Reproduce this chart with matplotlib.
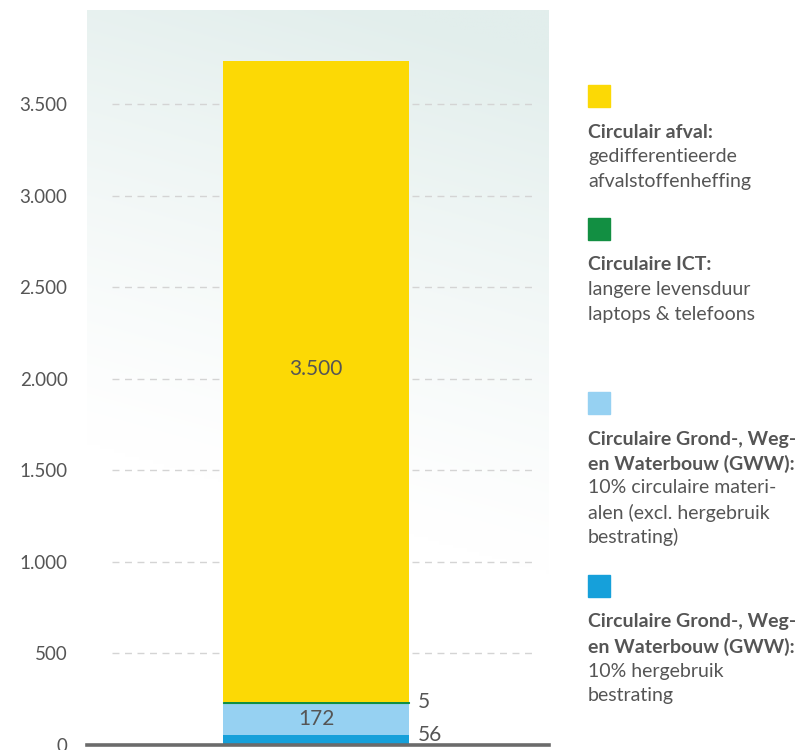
import numpy as np
import matplotlib.pyplot as plt
from matplotlib.patches import Rectangle
from matplotlib.colors import to_rgb

plt.rcParams['font.family'] = ['Lato', 'DejaVu Sans']

# stacked from the bottom up
values = [56, 172, 5, 3500]
colors = ['#16a0da', '#96d1f2', '#128f42', '#fcd905']
value_labels = ['56', '172', '5', '3.500']

yticks = [0, 500, 1000, 1500, 2000, 2500, 3000, 3500]
ytick_labels = ['0', '500', '1.000', '1.500', '2.000', '2.500', '3.000', '3.500']

# legend, top to bottom
legend_colors = ['#fcd905', '#128f42', '#96d1f2', '#16a0da']
legend_bold = [
    ['Circulair afval:'],
    ['Circulaire ICT:'],
    ['Circulaire Grond-, Weg-', 'en Waterbouw (GWW):'],
    ['Circulaire Grond-, Weg-', 'en Waterbouw (GWW):'],
]
legend_text = [
    ['gedifferentieerde', 'afvalstoffenheffing'],
    ['langere levensduur', 'laptops & telefoons'],
    ['10% circulaire materi-', 'alen (excl. hergebruik', 'bestrating)'],
    ['10% hergebruik', 'bestrating'],
]
legend_top = [85, 218, 392, 575]

txt = '#555555'
W, H = 807, 750
fig = plt.figure(figsize=(W / 100, H / 100), dpi=100)
ax = fig.add_axes([87 / W, 5 / H, 462 / W, 735 / H])

ymax = 735 / 641 * 3500
ax.set_ylim(0, ymax)
ax.set_xlim(-229 / 186, 233 / 186)

# soft teal wash that fades out towards the bottom
ny, nx = 200, 200
yy, xx = np.mgrid[0:1:ny * 1j, 0:1:nx * 1j]
t = 0.85 * yy + 0.15 * xx
alpha = np.clip((t - 0.35) / 0.6, 0, 1) ** 1.2
base = np.array(to_rgb('#e2eeec'))
img = np.ones((ny, nx, 3)) * (1 - alpha[..., None]) + base * alpha[..., None]
ax.imshow(img, extent=[0, 1, 0, 1], transform=ax.transAxes, origin='lower',
          aspect='auto', zorder=0, interpolation='bilinear')

for y in yticks[1:]:
    ax.axhline(y, xmin=0.054, xmax=0.963, color='#d4d4d4', lw=1.0,
               ls=(0, (5, 4)), zorder=1)

bottom = 0
for v, c in zip(values, colors):
    lw = 0.8 if v < 20 else 0
    ax.bar(0, v, width=1.0, bottom=bottom, color=c, edgecolor=c,
           linewidth=lw, zorder=2)
    bottom += v

# value labels
tops = np.cumsum(values)
ax.text(0, tops[2] + values[3] * 0.52, value_labels[3], ha='center',
        va='center', fontsize=15, color=txt, zorder=3)
ax.text(0, values[0] + values[1] / 2, value_labels[1], ha='center',
        va='center', fontsize=15, color=txt, zorder=3)
ax.text(0.545, tops[2], value_labels[2], ha='left', va='center',
        fontsize=15, color=txt, zorder=3)
ax.text(0.545, tops[0], value_labels[0], ha='left', va='center',
        fontsize=15, color=txt, zorder=3)

ax.axhline(0, color='#6b6b6b', lw=2.6, zorder=4, clip_on=False)

ax.set_yticks(yticks)
ax.set_yticklabels(ytick_labels)
ax.set_xticks([])
ax.tick_params(axis='y', length=0, pad=14, labelsize=13.5, labelcolor=txt)
for s in ax.spines.values():
    s.set_visible(False)

# legend drawn by hand on the right
for col, bold, desc, top in zip(legend_colors, legend_bold, legend_text, legend_top):
    fig.patches.append(Rectangle((588 / W, 1 - (top + 22) / H), 22 / W, 22 / H,
                                 transform=fig.transFigure, color=col))
    y = top + 47
    for line in bold:
        fig.text(588 / W, 1 - y / H, line, ha='left', va='center',
                 fontsize=14, fontweight='bold', color=txt)
        y += 24.5
    for line in desc:
        fig.text(588 / W, 1 - y / H, line, ha='left', va='center',
                 fontsize=14, color=txt)
        y += 24.5

fig.savefig('out.png', dpi=100, facecolor='white')
